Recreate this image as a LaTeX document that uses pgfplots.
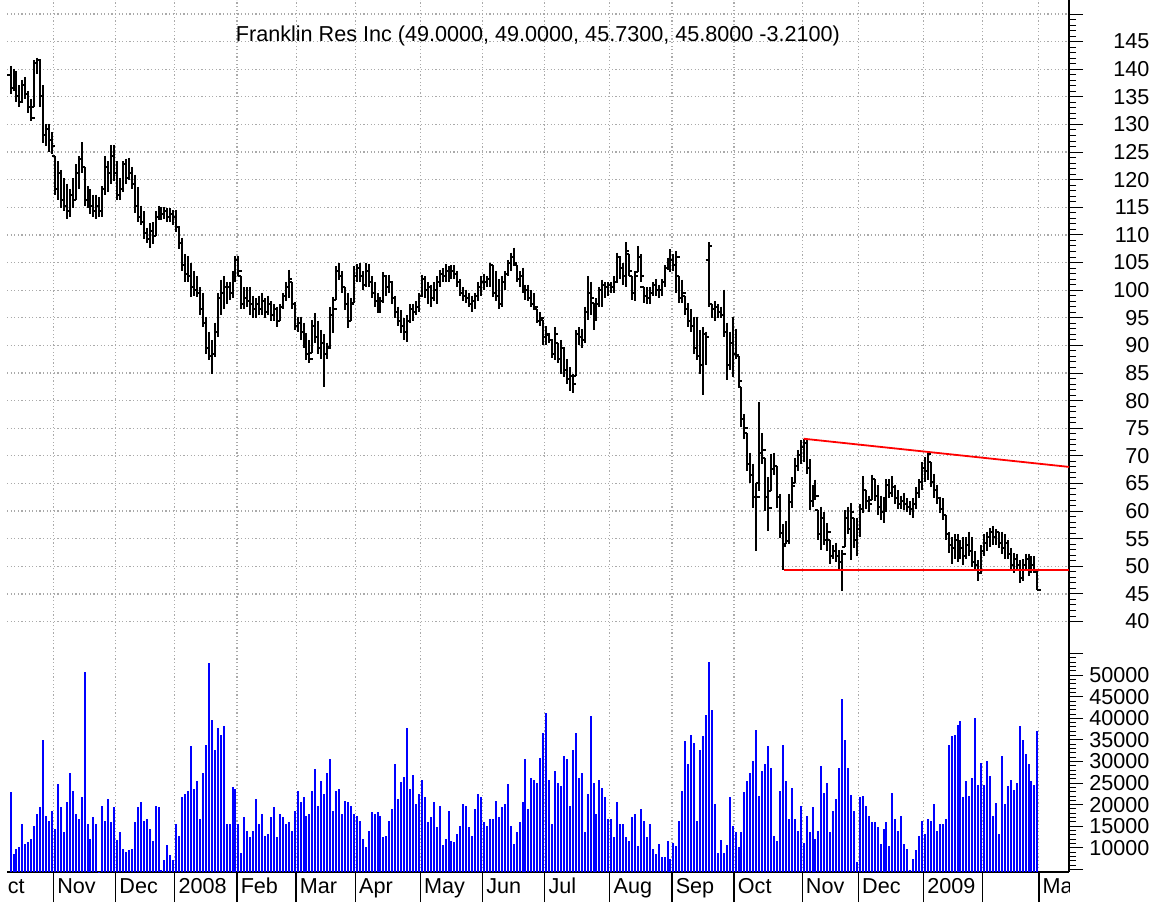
\documentclass[border=0pt]{standalone}
\usepackage{fontspec}
\setmainfont{Liberation Sans}
\usepackage{pgfplots}
\usepackage{pgfplotstable}
\pgfplotsset{compat=1.18}

\pgfdeclareplotmark{otick}{\pgfpathmoveto{\pgfqpoint{-\pgfplotmarksize}{0pt}}\pgfpathlineto{\pgfqpoint{0pt}{0pt}}\pgfusepathqstroke}
\pgfdeclareplotmark{ctick}{\pgfpathmoveto{\pgfqpoint{0pt}{0pt}}\pgfpathlineto{\pgfqpoint{\pgfplotmarksize}{0pt}}\pgfusepathqstroke}

\definecolor{gridgray}{RGB}{170,170,170}
\definecolor{volblue}{RGB}{0,0,255}
\definecolor{trendred}{RGB}{255,0,0}
\tikzset{mlabel/.style={font=\fontsize{10.8}{12}\selectfont, anchor=base west, inner sep=0pt, xshift=1.7pt}}

\pgfplotstableread{
i o h l c v
0 139.0 140.6 135.6 136.6 22870
1 136.6 140.1 136.1 139.1 8540
2 139.1 139.6 134.1 135.1 9700
3 135.1 137.1 133.1 134.1 10090
4 134.1 138.1 134.1 137.1 15510
5 137.1 138.6 134.6 135.6 10860
6 135.6 136.1 132.1 133.1 11250
7 133.1 134.6 130.6 131.1 12030
8 133.1 141.6 133.1 141.1 15130
9 141.1 142.1 139.1 141.6 17840
10 141.6 141.6 133.1 135.1 19390
11 135.1 137.1 126.6 128.1 35045
12 128.1 130.1 126.1 129.1 17450
13 129.1 130.1 125.1 127.1 16290
14 127.1 128.6 124.6 126.1 18615
15 124.3 124.3 117.3 118.3 14350
16 118.3 123.3 116.3 121.3 24815
17 121.3 121.8 114.8 116.3 19390
18 116.3 120.3 114.3 115.3 13580
19 115.3 119.3 112.8 114.3 20550
20 114.3 118.3 113.3 117.3 27370
21 117.3 120.3 114.8 116.3 23260
22 116.3 122.8 116.3 121.3 17840
23 121.3 124.3 118.3 123.8 16680
24 123.8 126.8 121.3 122.3 21715
25 122.3 122.3 115.3 116.3 50780
26 116.3 118.8 114.8 117.3 15510
27 117.3 118.3 113.8 115.3 12030
28 115.3 117.3 113.3 114.3 17065
29 114.3 117.3 112.8 115.3 15510
30 115.3 116.8 113.3 114.3 4500
31 114.3 118.8 113.3 118.3 19780
32 118.3 124.3 117.3 122.3 16290
33 122.3 123.3 117.8 121.3 21330
34 121.3 126.3 119.3 124.3 15900
35 124.3 126.3 119.8 121.3 19390
36 121.3 123.3 116.3 117.3 11800
37 117.3 120.3 116.3 118.3 13580
38 118.3 123.3 117.8 122.8 9700
39 122.8 123.8 119.3 120.3 9080
40 120.3 124.0 120.0 121.3 9470
41 121.3 122.3 118.3 119.3 9700
42 119.3 120.9 114.0 115.3 15900
43 115.3 118.7 112.3 113.3 19390
44 113.3 115.3 111.8 112.3 20550
45 112.3 114.3 109.3 110.3 16290
46 110.3 111.3 108.5 109.3 16680
47 109.3 112.1 107.6 110.8 14350
48 110.8 112.3 108.3 109.8 11640
49 109.8 114.3 109.8 113.3 19780
50 113.3 115.3 112.7 114.3 19390
51 114.3 115.1 112.7 113.8 4820
52 113.8 115.1 112.8 114.3 7150
53 114.3 114.8 112.3 113.3 10630
54 113.3 114.8 112.3 113.8 8385
55 113.8 114.5 111.8 113.3 7150
56 113.3 114.5 110.5 111.5 15510
57 111.5 111.5 107.4 108.5 12800
58 108.5 109.5 103.5 104.5 21715
59 104.5 106.5 101.5 103.0 22490
60 103.0 106.1 101.4 102.5 23260
61 102.5 105.0 98.8 100.5 33495
62 100.5 103.5 99.0 100.0 23650
63 100.0 102.5 98.8 99.5 25590
64 99.5 100.5 95.5 96.5 16680
65 96.5 99.5 93.3 94.0 27370
66 94.0 95.2 88.5 89.5 33880
67 89.5 92.5 87.3 88.0 52715
68 88.0 91.0 84.9 88.5 39695
69 88.5 94.1 87.9 92.5 32720
70 92.5 99.5 91.5 98.5 37760
71 98.5 101.9 95.5 99.5 36210
72 99.5 102.5 96.5 100.5 38145
73 100.5 101.5 97.5 100.5 15510
74 100.5 101.4 98.3 99.5 15510
75 99.5 103.5 98.5 103.0 24040
76 103.0 106.1 101.5 105.5 23650
77 105.5 106.1 102.5 103.5 15510
78 102.5 102.5 96.5 97.5 8695
79 97.5 100.5 96.5 98.5 17065
80 98.5 100.5 97.0 98.0 13965
81 98.0 100.5 95.5 97.5 12415
82 97.5 99.0 95.0 96.5 13965
83 96.5 98.5 95.0 97.5 21330
84 97.5 99.0 95.5 96.5 15510
85 96.5 99.5 95.5 98.0 17840
86 98.0 98.5 95.0 96.0 12800
87 96.0 99.0 95.5 97.5 13190
88 97.5 98.0 94.5 95.5 17065
89 95.5 97.5 94.5 96.5 19390
90 96.5 97.0 93.3 94.5 12415
91 94.5 97.5 94.5 97.0 17840
92 97.0 99.5 96.5 99.0 17065
93 99.0 101.5 98.0 100.5 15510
94 100.5 103.7 98.5 102.0 15900
95 101.5 101.5 96.5 97.5 13965
96 97.5 97.9 92.8 93.5 18615
97 93.5 95.2 92.5 94.0 23260
98 94.0 95.2 91.0 92.5 20550
99 92.5 94.1 89.5 90.5 21715
100 90.5 92.2 87.3 88.5 17450
101 88.5 91.0 86.8 87.5 17840
102 88.6 94.6 88.6 93.5 23260
103 93.5 95.9 90.4 91.5 28150
104 91.5 94.5 88.5 89.5 19780
105 89.5 92.8 87.5 90.5 25590
106 90.5 92.0 82.5 88.5 22490
107 88.5 90.5 87.5 89.5 27370
108 89.7 97.0 89.7 95.5 30470
109 95.5 98.8 92.2 96.5 18615
110 98.3 104.3 98.3 103.5 23260
111 103.5 105.0 101.9 102.5 23650
112 102.5 103.5 99.5 100.5 17840
113 100.5 100.6 96.4 97.5 20940
114 97.5 99.5 93.2 94.5 20550
115 94.5 98.5 94.5 97.5 19780
116 97.7 104.3 97.7 102.5 17840
117 102.5 104.7 101.4 104.0 17450
118 104.0 105.0 101.5 102.5 16290
119 102.5 103.5 100.0 101.0 12030
120 101.0 105.0 100.5 103.5 10090
121 103.5 104.7 100.5 101.5 13965
122 101.5 102.5 98.5 99.5 18230
123 99.5 101.5 97.0 98.0 17840
124 98.0 99.5 95.9 96.5 18230
125 96.5 98.8 95.9 98.0 17450
126 98.0 103.2 97.7 102.5 12415
127 102.5 102.5 99.0 100.5 12800
128 100.5 102.8 99.5 101.5 16290
129 101.5 101.5 97.5 98.5 19000
130 98.5 99.0 95.0 96.0 29310
131 96.0 97.0 93.5 94.5 21330
132 94.5 96.4 92.2 93.5 25200
133 93.5 95.0 91.0 92.5 26370
134 92.5 95.5 90.6 94.5 37760
135 94.5 97.5 94.0 96.5 23650
136 96.5 97.5 94.5 96.0 26985
137 96.0 98.0 95.5 97.0 20165
138 97.0 99.5 96.0 99.0 22490
139 99.0 102.8 98.8 102.0 25820
140 102.0 102.5 98.5 100.0 21715
141 100.0 101.5 97.5 100.5 15900
142 100.5 101.0 97.0 98.5 17065
143 98.5 101.5 98.0 100.0 20550
144 100.0 102.5 97.5 101.5 14740
145 101.5 103.7 100.5 103.0 19780
146 103.0 104.0 101.4 102.5 10630
147 102.5 104.7 101.5 103.5 12030
148 103.5 104.3 101.4 102.5 18615
149 102.5 104.5 102.0 103.5 11640
150 103.5 104.5 102.0 103.0 11250
151 103.0 103.5 100.5 101.5 13190
152 101.5 102.0 99.0 99.5 15130
153 99.5 100.5 98.0 99.0 20165
154 99.0 100.1 97.7 98.5 19780
155 98.5 99.5 97.0 97.5 14740
156 97.5 99.0 96.0 98.0 12800
157 98.0 99.5 96.5 99.0 19000
158 99.0 101.5 98.0 100.5 22490
159 100.5 102.5 99.0 101.5 21715
160 101.5 103.0 100.0 101.5 15900
161 101.5 102.5 100.5 102.0 15130
162 102.0 105.0 100.5 104.5 16680
163 104.5 104.5 98.8 99.5 16680
164 99.5 103.5 98.0 99.0 20940
165 99.0 102.0 96.5 97.5 17065
166 97.5 102.5 97.0 101.5 19390
167 101.5 103.5 100.0 103.0 20165
168 103.0 105.5 102.5 105.0 24815
169 105.0 106.8 103.5 106.0 15130
170 106.0 107.7 104.5 105.0 10860
171 104.5 104.5 101.4 102.0 13580
172 102.0 103.5 100.5 102.5 15900
173 102.5 104.1 99.5 100.5 20550
174 100.5 101.0 98.3 100.0 30470
175 100.0 101.0 98.0 98.5 19000
176 98.5 100.0 97.0 97.5 26210
177 97.5 99.5 96.4 97.0 25820
178 96.5 96.5 94.1 94.5 25050
179 94.5 96.0 93.5 95.0 30860
180 94.6 94.6 90.1 91.5 36600
181 91.5 93.5 90.0 92.0 41245
182 91.9 91.9 90.4 91.0 25820
183 91.0 91.0 87.7 88.5 15510
184 88.5 93.3 87.3 92.0 27760
185 90.5 90.5 86.8 87.5 25050
186 87.5 91.0 84.9 89.5 24270
187 89.5 89.7 84.2 85.5 31170
188 85.5 87.5 83.0 84.0 30470
189 84.0 86.0 81.8 84.5 19780
190 84.5 84.9 81.3 83.0 32720
191 84.5 92.8 84.5 92.0 36600
192 92.0 93.3 90.1 91.5 26210
193 91.5 93.0 89.5 91.0 27370
194 91.0 97.0 90.5 96.0 13580
195 96.0 102.5 94.6 99.5 22490
196 99.5 101.5 95.5 98.5 40470
197 97.7 97.7 92.8 95.0 25050
198 95.0 98.5 94.5 97.5 17840
199 97.5 100.5 97.0 100.0 25820
200 100.0 101.9 97.0 101.0 23885
201 101.0 101.5 98.5 100.5 21715
202 100.5 101.5 99.0 101.0 16680
203 101.0 101.4 99.5 100.5 16680
204 100.5 102.5 99.5 101.5 12415
205 101.5 106.8 101.4 106.0 20550
206 106.0 106.0 102.0 104.0 15510
207 104.0 105.0 101.0 102.5 15510
208 102.5 108.7 100.6 107.0 12415
209 106.5 106.5 102.5 103.5 11640
210 102.5 102.5 98.3 99.5 17065
211 99.5 103.5 98.0 102.5 17840
212 103.2 108.0 103.2 106.0 10480
213 106.0 106.5 101.5 102.5 19000
214 100.6 100.6 97.7 99.0 16290
215 99.0 100.5 97.5 98.5 12415
216 98.5 100.5 97.5 99.5 15510
217 99.5 101.5 99.0 101.0 9700
218 101.0 102.0 99.0 100.0 8540
219 100.0 101.0 98.5 100.0 10860
220 100.0 102.0 99.0 101.5 7920
221 101.5 104.5 100.5 104.0 7920
222 104.0 105.9 103.7 105.0 11640
223 105.0 107.4 103.2 105.5 7380
224 105.5 106.5 103.5 104.5 11020
225 104.5 107.0 99.5 106.0 10480
226 102.5 102.5 97.7 98.5 16290
227 98.5 101.9 97.7 99.5 23110
228 99.0 99.0 95.5 96.5 34660
229 96.5 97.7 93.3 94.5 29310
230 94.5 96.5 92.5 93.5 36210
231 93.5 95.2 88.5 89.5 34270
232 89.5 95.2 87.3 88.0 16290
233 88.0 92.8 84.9 86.5 32720
234 86.5 93.3 81.0 92.0 35820
235 92.0 92.5 86.5 91.5 40860
236 105.5 108.7 97.0 108.0 53025
237 97.5 97.5 95.0 96.5 42020
238 96.5 98.0 94.5 97.0 20165
239 97.0 97.5 95.0 96.0 8695
240 96.0 97.0 95.0 95.5 11800
241 95.5 100.1 91.5 92.5 8695
242 92.5 94.1 83.7 86.5 10630
243 86.5 92.5 85.5 90.5 21715
244 90.5 95.2 84.2 88.5 15130
245 88.5 93.0 87.5 88.2 13580
246 88.0 88.0 82.5 83.6 10090
247 82.5 82.5 75.2 76.6 13580
248 76.6 77.6 73.1 75.1 22880
249 74.1 74.1 67.3 68.6 25590
250 68.6 70.6 65.1 66.6 27370
251 66.6 68.6 60.6 62.6 30085
252 62.6 65.0 52.7 62.6 37370
253 65.0 79.7 63.6 70.6 22100
254 70.6 74.1 68.6 71.1 27760
255 69.7 69.7 60.0 62.6 29310
256 62.6 66.1 56.4 60.6 33495
257 63.7 70.4 63.7 67.6 28535
258 67.6 70.6 66.6 68.1 12800
259 68.1 68.1 60.6 62.6 11640
260 62.6 63.1 55.1 56.1 23110
261 56.1 57.6 49.4 53.6 33880
262 54.0 58.2 54.0 54.6 25435
263 54.6 63.1 54.0 61.6 16680
264 61.6 66.1 60.6 64.6 23885
265 65.1 69.7 65.1 68.1 16680
266 68.1 71.1 67.3 70.1 13965
267 70.1 72.8 68.6 71.6 19780
268 71.6 73.1 68.8 72.3 11020
269 72.3 72.8 66.8 67.8 17450
270 67.8 69.4 60.2 61.8 13580
271 61.8 64.8 60.8 63.3 19390
272 63.3 65.7 62.0 62.8 12030
273 60.2 60.2 54.7 55.8 13965
274 55.8 60.8 52.9 58.8 28920
275 58.8 59.8 53.8 54.8 22725
276 54.8 57.8 52.8 56.3 25050
277 54.7 54.7 50.5 51.8 13580
278 51.8 53.8 51.3 52.8 18615
279 52.8 54.3 50.8 51.8 21330
280 51.8 52.9 49.3 50.8 28535
281 50.8 52.9 45.6 52.3 44580
282 53.5 60.2 53.5 58.8 35045
283 58.8 60.8 55.8 56.8 28535
284 56.8 61.5 51.1 59.8 22335
285 58.8 58.8 53.3 54.8 18615
286 54.8 58.8 51.8 56.8 6760
287 56.8 61.3 55.3 60.3 21715
288 60.3 66.3 59.7 63.8 21950
289 63.8 63.8 60.3 61.8 19780
290 61.8 62.8 59.8 61.3 17450
291 62.0 66.6 62.0 65.8 15900
292 65.8 65.8 61.8 62.8 15900
293 62.8 64.8 59.3 60.8 14740
294 60.8 62.8 58.3 59.8 10860
295 59.8 62.6 57.9 61.3 14350
296 61.3 65.8 59.8 64.8 15900
297 64.8 65.8 62.3 63.3 10480
298 63.3 66.3 62.6 64.3 22725
299 64.3 64.8 61.3 62.3 16680
300 62.3 63.8 60.3 61.3 13965
301 61.3 62.8 60.3 61.8 17450
302 61.8 63.3 60.2 61.3 10860
303 61.3 62.3 59.8 60.8 9700
304 60.8 61.8 59.3 60.3 4820
305 60.3 62.3 58.8 61.3 7380
306 61.3 64.3 60.3 63.3 9470
307 63.3 65.8 62.3 65.3 12800
308 65.3 68.8 63.9 67.8 16290
309 67.8 69.8 65.3 67.3 13190
310 67.3 70.9 65.7 70.3 16680
311 68.8 68.8 64.3 65.3 16290
312 65.3 66.8 62.3 63.8 20165
313 63.8 64.8 61.3 62.3 13965
314 62.3 62.6 59.7 60.3 15510
315 60.3 62.3 58.3 59.3 15510
316 59.3 59.3 54.8 55.8 16680
317 55.8 56.2 52.4 53.8 33880
318 53.8 55.3 50.5 53.3 35820
319 53.3 55.8 51.3 54.8 36210
320 54.8 55.8 50.8 51.8 38530
321 51.8 54.8 51.3 53.3 39310
322 53.3 55.3 50.3 51.8 21715
323 51.8 55.3 51.3 53.8 25435
324 53.8 56.3 51.8 52.8 21950
325 52.8 55.3 49.8 50.8 26210
326 50.8 52.8 49.3 50.3 40085
327 50.3 51.1 47.4 48.8 24660
328 48.8 53.8 48.8 52.8 29700
329 52.8 55.8 51.8 54.3 24660
330 54.3 56.3 52.8 55.3 30085
331 55.3 56.9 53.5 56.3 26600
332 56.3 57.3 53.8 55.3 17450
333 55.3 56.8 53.8 56.3 20400
334 56.3 56.3 53.3 54.3 13190
335 54.3 56.3 52.3 53.3 31250
336 53.3 55.8 51.3 54.3 20165
337 54.3 54.8 51.3 52.3 24270
338 52.3 53.3 49.3 50.3 25820
339 50.3 52.4 48.7 51.3 23500
340 51.3 52.3 49.3 50.3 25050
341 50.3 51.1 46.9 47.8 38145
342 47.8 51.3 47.3 50.3 35045
343 50.3 52.3 49.3 51.3 31635
344 51.3 52.3 48.3 49.8 29310
345 49.8 51.8 48.8 50.3 25435
346 50.3 51.8 48.8 49.0 24660
347 49.0 49.0 45.73 45.8 36980
}\ohlc

\begin{document}
\begin{tikzpicture}
\pgfplotsset{
  common/.style={
    scale only axis, width=531pt,
    xmin=-1.21, xmax=357.68,
    xtick={14.5,35.5,55.5,76.5,96.5,116.5,138.5,159.5,180.5,202.5,223.5,244.5,267.5,286.5,308.5,328.5,347.5},
    xticklabels={},
    anchor=south west,
  },
  rightaxis/.style={
    axis y line*=right,
    y axis line style={black, line width=0.7pt},
    tick align=outside,
    major tick length=7pt, minor tick length=3.5pt,
    ytick style={black, line width=0.5pt},
    minor y tick num=4,
    scaled y ticks=false,
    yticklabel style={font=\fontsize{10.8}{12}\selectfont, anchor=west, text width=30pt, align=right, inner sep=0pt, xshift=3pt},
  },
  dotgrid/.style={major grid style={gridgray, line width=0.6pt, dash pattern=on 0.6pt off 1.2pt}},
}
% ---------- price panel ----------
\begin{axis}[common, rightaxis, dotgrid,
  at={(3.5pt,127pt)}, height=324pt,
  ymin=35.21, ymax=152.535,
  axis x line*=bottom, x axis line style={draw=none}, xtick style={draw=none},
  ytick={40,45,...,150},
  yticklabels={40,45,50,55,60,65,70,75,80,85,90,95,100,105,110,115,120,125,130,135,140,145,{}},
  xmajorgrids, ymajorgrids,
]
\addplot[draw=none, mark=none, forget plot,
  error bars/.cd, y dir=minus, y explicit, error mark=none,
  error bar style={draw=black, line width=1.0pt}]
  table[x=i, y=h, y error expr=\thisrow{h}-\thisrow{l}] {\ohlc};
\addplot[black, only marks, mark=otick, mark size=1.7pt, mark options={line width=1.0pt}]
  table[x=i, y=o] {\ohlc};
\addplot[black, only marks, mark=ctick, mark size=1.7pt, mark options={line width=1.0pt}]
  table[x=i, y=c] {\ohlc};
\addplot[draw=trendred, line width=0.9pt, mark=none] coordinates {(268,73.1) (357.68,68.0)};
\addplot[draw=trendred, line width=0.9pt, mark=none] coordinates {(261.5,49.35) (357.68,49.35)};
\node[anchor=base, font=\fontsize{10.8}{13}\selectfont] at (axis cs:178.2,145.0)
  {Franklin Res Inc (49.0000, 49.0000, 45.7300, 45.8000 -3.2100)};
\end{axis}
% ---------- volume panel ----------
\begin{axis}[common, rightaxis, dotgrid,
  at={(3.5pt,15pt)}, height=112pt,
  ymin=4400, ymax=56290,
  axis x line*=bottom, x axis line style={black, line width=0.7pt}, xtick style={draw=none},
  ytick={5000,10000,...,55000},
  yticklabels={{},10000,15000,20000,25000,30000,35000,40000,45000,50000,{}},
  xmajorgrids,
]
\addplot[ycomb, volblue, line width=1pt, mark=none] table[x=i, y=v] {\ohlc};
\end{axis}
% ---------- month strip ----------
\begin{axis}[common,
  at={(3.5pt,0pt)}, height=15pt,
  ymin=0, ymax=1,
  axis x line*=bottom, axis y line*=left,
  axis line style={draw=none}, tick style={draw=none},
  ytick=\empty,
  xmajorgrids, major grid style={black, line width=0.65pt},
]
\node[mlabel] at (axis cs:-7.9,0.29) {Oct};
\node[mlabel] at (axis cs:14.5,0.29) {Nov};
\node[mlabel] at (axis cs:35.5,0.29) {Dec};
\node[mlabel] at (axis cs:55.5,0.29) {2008};
\node[mlabel] at (axis cs:76.5,0.29) {Feb};
\node[mlabel] at (axis cs:96.5,0.29) {Mar};
\node[mlabel] at (axis cs:116.5,0.29) {Apr};
\node[mlabel] at (axis cs:138.5,0.29) {May};
\node[mlabel] at (axis cs:159.5,0.29) {Jun};
\node[mlabel] at (axis cs:180.5,0.29) {Jul};
\node[mlabel] at (axis cs:202.5,0.29) {Aug};
\node[mlabel] at (axis cs:223.5,0.29) {Sep};
\node[mlabel] at (axis cs:244.5,0.29) {Oct};
\node[mlabel] at (axis cs:267.5,0.29) {Nov};
\node[mlabel] at (axis cs:286.5,0.29) {Dec};
\node[mlabel] at (axis cs:308.5,0.29) {2009};
\node[mlabel] at (axis cs:347.5,0.29) {Mar};
\end{axis}
\pgfresetboundingbox
\useasboundingbox (0pt,0pt) rectangle (581.5pt,451pt);
\end{tikzpicture}
\end{document}
